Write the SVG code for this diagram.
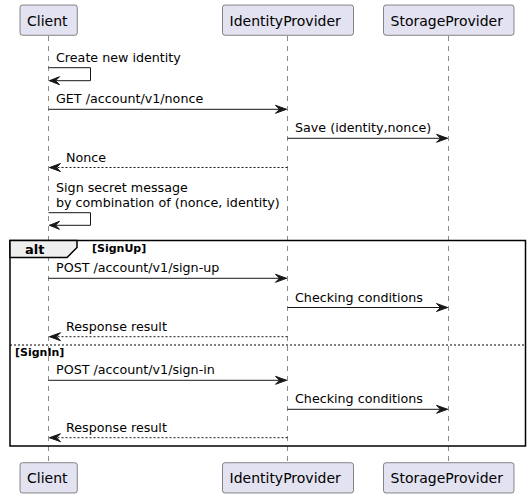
<svg xmlns="http://www.w3.org/2000/svg" width="530" height="498" viewBox="0 0 530 498">
<style>
.life{stroke:#181818;stroke-width:0.5;stroke-dasharray:5,5;fill:none}
.box{fill:#E2E2F0;stroke:#181818;stroke-width:0.5}
.pt{font-family:"DejaVu Sans",sans-serif;font-size:14px;fill:#000}
.mt{font-family:"DejaVu Sans",sans-serif;font-size:12.7px;fill:#000}
.msg{stroke:#181818;stroke-width:1;fill:none}
.ret{stroke:#181818;stroke-width:1;stroke-dasharray:2,2;fill:none}
.ah{fill:#181818;stroke:#181818;stroke-width:1}
.frame{fill:none;stroke:#000;stroke-width:1.5}
.tab{fill:#EEEEEE;stroke:#000;stroke-width:1.5}
.sep{stroke:#000;stroke-width:1;stroke-dasharray:2,2}
.bt{font-family:"DejaVu Sans",sans-serif;font-weight:bold;fill:#000}
</style>
<g id="lifelines">
<line class="life" x1="48.5" y1="36" x2="48.5" y2="462.5"/>
<line class="life" x1="287.5" y1="36" x2="287.5" y2="462.5"/>
<line class="life" x1="448.5" y1="36" x2="448.5" y2="462.5"/>
</g>
<g id="alt-frame">
<rect class="frame" x="10" y="240.5" width="515.5" height="205.5"/>
<polygon class="tab" points="10,240.5 77,240.5 77,247.5 67,257.5 10,257.5"/>
<text class="bt" x="25" y="253.5" font-size="13">alt</text>
<text class="bt" x="92" y="251.5" font-size="11">[SignUp]</text>
<line class="sep" x1="10" y1="345" x2="525.5" y2="345"/>
<text class="bt" x="15" y="356" font-size="11">[SignIn]</text>
</g>
<g id="node-client-top">
<rect class="box" x="20" y="5" width="57.3" height="30.3" rx="2.5"/>
<text class="pt" x="27" y="25.5">Client</text>
</g>
<g id="node-idp-top">
<rect class="box" x="222.5" y="5" width="131" height="30.3" rx="2.5"/>
<text class="pt" x="229.5" y="25.5">IdentityProvider</text>
</g>
<g id="node-storage-top">
<rect class="box" x="383.5" y="5" width="130.5" height="30.3" rx="2.5"/>
<text class="pt" x="390.5" y="25.5">StorageProvider</text>
</g>
<g id="node-client-bottom">
<rect class="box" x="20" y="462.7" width="57.3" height="30.3" rx="2.5"/>
<text class="pt" x="27" y="483.2">Client</text>
</g>
<g id="node-idp-bottom">
<rect class="box" x="222.5" y="462.7" width="131" height="30.3" rx="2.5"/>
<text class="pt" x="229.5" y="483.2">IdentityProvider</text>
</g>
<g id="node-storage-bottom">
<rect class="box" x="383.5" y="462.7" width="130.5" height="30.3" rx="2.5"/>
<text class="pt" x="390.5" y="483.2">StorageProvider</text>
</g>
<g id="connectors">
<polyline class="msg" points="48.5,67.7 90.5,67.7 90.5,80.7 49.5,80.7"/>
<polygon class="ah" points="59.5,76.7 49.5,80.7 59.5,84.7 55.5,80.7"/>
<text class="mt" x="56" y="61.7">Create new identity</text>
<line class="msg" x1="48.5" y1="109.3" x2="286.5" y2="109.3"/>
<polygon class="ah" points="275.5,105.3 286.5,109.3 275.5,113.3 279.5,109.3"/>
<text class="mt" x="56" y="103.3">GET /account/v1/nonce</text>
<line class="msg" x1="287.5" y1="138.3" x2="447.5" y2="138.3"/>
<polygon class="ah" points="436.5,134.3 447.5,138.3 436.5,142.3 440.5,138.3"/>
<text class="mt" x="295" y="132.3">Save (identity,nonce)</text>
<line class="ret" x1="49.5" y1="167.5" x2="287.5" y2="167.5"/>
<polygon class="ah" points="60.5,163.5 49.5,167.5 60.5,171.5 56.5,167.5"/>
<text class="mt" x="66" y="161.5">Nonce</text>
<polyline class="msg" points="48.5,212.7 90.5,212.7 90.5,225.3 49.5,225.3"/>
<polygon class="ah" points="59.5,221.3 49.5,225.3 59.5,229.3 55.5,225.3"/>
<text class="mt" x="56" y="191.6">Sign secret message</text>
<text class="mt" x="56" y="206.7">by combination of (nonce, identity)</text>
<line class="msg" x1="48.5" y1="278.3" x2="286.5" y2="278.3"/>
<polygon class="ah" points="275.5,274.3 286.5,278.3 275.5,282.3 279.5,278.3"/>
<text class="mt" x="56" y="272.3">POST /account/v1/sign-up</text>
<line class="msg" x1="287.5" y1="307.5" x2="447.5" y2="307.5"/>
<polygon class="ah" points="436.5,303.5 447.5,307.5 436.5,311.5 440.5,307.5"/>
<text class="mt" x="295" y="301.5">Checking conditions</text>
<line class="ret" x1="49.5" y1="336.7" x2="287.5" y2="336.7"/>
<polygon class="ah" points="60.5,332.7 49.5,336.7 60.5,340.7 56.5,336.7"/>
<text class="mt" x="66" y="330.7">Response result</text>
<line class="msg" x1="48.5" y1="380.3" x2="286.5" y2="380.3"/>
<polygon class="ah" points="275.5,376.3 286.5,380.3 275.5,384.3 279.5,380.3"/>
<text class="mt" x="56" y="374.3">POST /account/v1/sign-in</text>
<line class="msg" x1="287.5" y1="409.3" x2="447.5" y2="409.3"/>
<polygon class="ah" points="436.5,405.3 447.5,409.3 436.5,413.3 440.5,409.3"/>
<text class="mt" x="295" y="403.3">Checking conditions</text>
<line class="ret" x1="49.5" y1="437.7" x2="287.5" y2="437.7"/>
<polygon class="ah" points="60.5,433.7 49.5,437.7 60.5,441.7 56.5,437.7"/>
<text class="mt" x="66" y="431.7">Response result</text>
</g>
</svg>
